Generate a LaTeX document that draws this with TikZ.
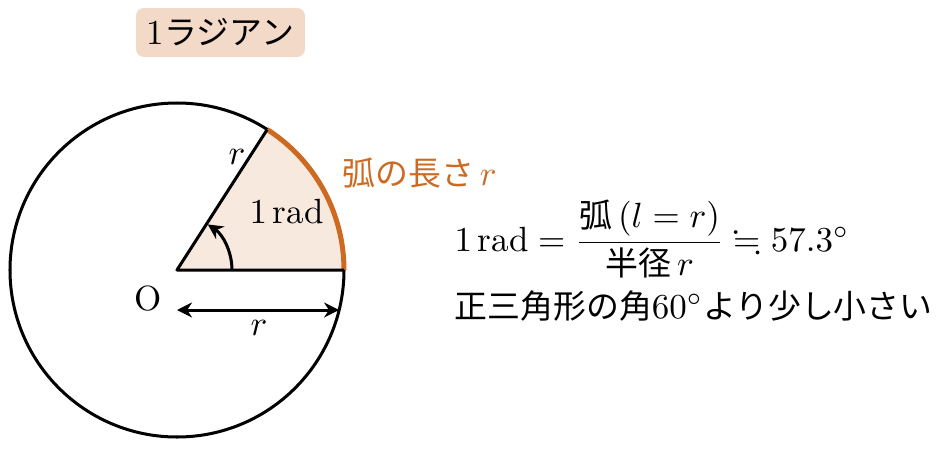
\documentclass[tikz,border=0pt]{standalone}
\usepackage{amsmath,amssymb}
\usepackage{fontspec}
\newfontfamily\jp{Noto Sans CJK JP}[Scale=0.94]
\usetikzlibrary{arrows.meta}
\definecolor{arcorange}{HTML}{CD6A22}
\definecolor{boxfill}{HTML}{F3D9C7}
\definecolor{sectfill}{HTML}{F8E9DE}
\tikzset{
  lbl/.style={font=\fontsize{10}{12}\selectfont, inner sep=0pt},
  titlebox/.style={lbl, fill=boxfill, rounded corners=2.3pt, minimum width=48.3pt, minimum height=14pt}
}
\begin{document}
\begin{tikzpicture}[x=0.2857pt,y=0.2857pt, line width=0.86pt, line join=round,
  >={Stealth[length=4.3pt,width=4.3pt,inset=1.4pt]}]
\useasboundingbox (-177,-178) rectangle (765,270);
\coordinate (O) at (0,0);
\coordinate (A) at (0:167);
\coordinate (B) at (57.2958:167);
\fill[sectfill] (O) -- (A) arc[start angle=0,end angle=57.2958,radius=167] -- cycle;
\draw (O) circle[radius=167];
\draw[arcorange, line width=1.43pt] (A) arc[start angle=0,end angle=57.2958,radius=167];
\draw (A) -- (O) -- (B);
\coordinate (S) at (55,0);
\draw[->] (S) arc[start angle=0,end angle=56,radius=55];
\coordinate (P) at (0,-40);
\coordinate (Q) at (162.1,-40);
\draw[<->] (P) -- (Q);
\node[titlebox] (title) at (43.5,237.5) {1{\jp ラジアン}};
\node[lbl, anchor=base west, text=arcorange] (arclabel) at (164,85) {{\jp 弧の長さ}\,$r$};
\node[lbl, anchor=base west] (rad) at (71,47) {$1\,\mathrm{rad}$};
\node[lbl] (r1) at (60,113) {$r$};
\node[lbl] (Olab) at (-29,-29) {O};
\node[lbl] (r2) at (82,-58) {$r$};
\node[lbl, anchor=base west] (formula) at (276,19) {$1\,\mathrm{rad} = \dfrac{\mbox{\jp 弧}\,(l=r)}{\mbox{\jp 半径}\,r} \fallingdotseq 57.3^\circ$};
\node[lbl, anchor=base west] (note) at (276,-48) {{\jp 正三角形の角}$60^\circ${\jp より少し小さい}};
\end{tikzpicture}
\end{document}
